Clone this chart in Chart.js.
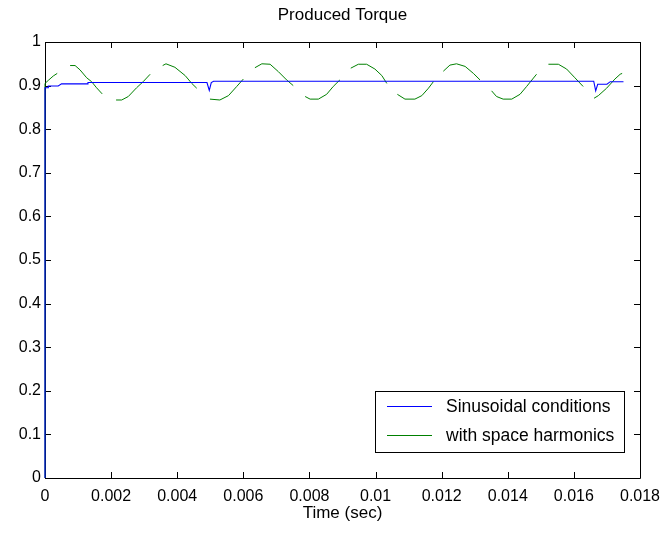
<!DOCTYPE html>
<html>
<head>
<meta charset="utf-8">
<title>Produced Torque</title>
<script src="https://cdn.jsdelivr.net/npm/chart.js@4/dist/chart.umd.min.js"></script>
<style>
  html, body { margin: 0; padding: 0; background: #fff; }
  #wrap { width: 663px; height: 533px; }
</style>
</head>
<body>
<div id="wrap"><canvas id="torque-chart" width="663" height="533"></canvas></div>
<script>
// torque, sinusoidal supply (s, p.u.)
const sinTime   = [0, 0, 0.0001, 0.0001, 0.0004, 0.0005, 0.0013, 0.0013, 0.0049, 0.00497, 0.00503, 0.0051, 0.0166, 0.01666, 0.01672, 0.0170, 0.0171, 0.0175];
const sinTorque = [0, 0.895, 0.895, 0.899, 0.899, 0.904, 0.904, 0.907, 0.907, 0.889, 0.907, 0.910, 0.910, 0.888, 0.903, 0.903, 0.909, 0.909];

// torque with space harmonics, null marks a break in the trace
const harmTime = [
  0, 0, 0.0001, 0.00025, 0.00037, 0.0005,
  0.00076, 0.00091, 0.00106, 0.00126, 0.00141, 0.00156, 0.00173, 0.0019,
  0.00215, 0.00232, 0.00252, 0.00277, 0.00297, 0.00318, 0.0034,
  0.00356, 0.00366, 0.00393, 0.00424, 0.00444, 0.00459, 0.0048,
  0.00499, 0.00529, 0.00555, 0.00580, 0.00600, 0.0062,
  0.00635, 0.00656, 0.00681, 0.00706, 0.00731, 0.00751, 0.0077,
  0.00787, 0.00802, 0.00827, 0.00852, 0.00872, 0.00892, 0.0091,
  0.00925, 0.00948, 0.00973, 0.00998, 0.01019, 0.01034, 0.0105,
  0.01066, 0.01089, 0.01119, 0.01140, 0.01160, 0.01175, 0.0119,
  0.01205, 0.01225, 0.01245, 0.01271, 0.01296, 0.01316, 0.0133,
  0.01351, 0.01366, 0.01386, 0.01412, 0.01437, 0.01457, 0.01487, 0.0150,
  0.01523, 0.01553, 0.01578, 0.01603, 0.01628, 0.0164,
  0.01661, 0.01674, 0.01699, 0.01724, 0.01740, 0.01746
];
const harmTorque = [
  0, 0.905, 0.912, 0.922, 0.928, null,
  0.946, 0.946, 0.936, 0.918, 0.909, 0.895, 0.881, null,
  0.867, 0.867, 0.875, 0.895, 0.909, 0.926, null,
  0.946, 0.950, 0.942, 0.923, 0.905, 0.894, null,
  0.869, 0.867, 0.877, 0.898, 0.915, null,
  0.941, 0.950, 0.949, 0.932, 0.913, 0.900, null,
  0.875, 0.869, 0.869, 0.880, 0.898, 0.913, null,
  0.940, 0.949, 0.949, 0.938, 0.923, 0.905, null,
  0.880, 0.869, 0.869, 0.877, 0.894, 0.909, null,
  0.933, 0.947, 0.950, 0.944, 0.928, 0.913, null,
  0.888, 0.875, 0.869, 0.869, 0.880, 0.898, 0.926, null,
  0.949, 0.949, 0.938, 0.918, 0.898, null,
  0.871, 0.877, 0.894, 0.915, 0.926, 0.928
];

const seriesLabels = ["Sinusoidal conditions", "with space harmonics"];
const xTicks = [0, 0.002, 0.004, 0.006, 0.008, 0.01, 0.012, 0.014, 0.016, 0.018];
const yTicks = [0, 0.1, 0.2, 0.3, 0.4, 0.5, 0.6, 0.7, 0.8, 0.9, 1];

const FONT = "'Liberation Sans', Arial, Helvetica, sans-serif";

const toPoints = (xs, ys) => xs.map((x, i) => ({ x: x, y: ys[i] }));

// box round the axes with inward ticks on all four sides
const axesBox = {
  id: "axesBox",
  beforeDatasetsDraw(chart) {
    const { ctx, chartArea: a, scales } = chart;
    const len = 6;
    ctx.save();
    ctx.strokeStyle = "#000";
    ctx.lineWidth = 1;
    ctx.beginPath();
    ctx.rect(Math.round(a.left) + 0.5, Math.round(a.top) + 0.5,
             Math.round(a.right - a.left), Math.round(a.bottom - a.top));
    xTicks.forEach((v) => {
      const px = Math.round(scales.x.getPixelForValue(v)) + 0.5;
      ctx.moveTo(px, a.bottom); ctx.lineTo(px, a.bottom - len);
      ctx.moveTo(px, a.top); ctx.lineTo(px, a.top + len);
    });
    yTicks.forEach((v) => {
      const py = Math.round(scales.y.getPixelForValue(v)) + 0.5;
      ctx.moveTo(a.left, py); ctx.lineTo(a.left + len, py);
      ctx.moveTo(a.right, py); ctx.lineTo(a.right - len, py);
    });
    ctx.stroke();
    ctx.restore();
  },
};

// boxed legend in the lower right corner
const boxLegend = {
  id: "boxLegend",
  afterDraw(chart) {
    const { ctx } = chart;
    const x0 = 375, y0 = 391, w = 249, h = 61;
    ctx.save();
    ctx.fillStyle = "#fff";
    ctx.fillRect(x0, y0, w, h);
    ctx.strokeStyle = "#000";
    ctx.lineWidth = 1;
    ctx.strokeRect(x0 + 0.5, y0 + 0.5, w, h);
    ctx.font = "17.5px " + FONT;
    ctx.textBaseline = "middle";
    chart.data.datasets.forEach((ds, i) => {
      const y = y0 + 15.5 + i * 29;
      ctx.strokeStyle = ds.borderColor;
      ctx.lineWidth = 1;
      ctx.beginPath();
      ctx.moveTo(x0 + 12, y);
      ctx.lineTo(x0 + 57, y);
      ctx.stroke();
      ctx.fillStyle = "#000";
      ctx.fillText(ds.label, x0 + 71, y + 1);
    });
    ctx.restore();
  },
};

new Chart(document.getElementById("torque-chart"), {
  type: "line",
  data: {
    datasets: [
      {
        label: seriesLabels[0],
        data: toPoints(sinTime, sinTorque),
        borderColor: "rgb(0,0,255)",
        borderWidth: 1.1,
        pointRadius: 0,
        tension: 0,
        clip: 4,
      },
      {
        label: seriesLabels[1],
        data: toPoints(harmTime, harmTorque),
        borderColor: "rgb(0,128,0)",
        borderWidth: 1,
        pointRadius: 0,
        tension: 0,
        spanGaps: false,
        clip: 4,
      },
    ],
  },
  options: {
    responsive: false,
    animation: false,
    events: [],
    layout: { padding: { left: 0, right: 23, top: 0, bottom: 0 } },
    plugins: {
      legend: { display: false },
      tooltip: { enabled: false },
      title: {
        display: true,
        fullSize: false,
        text: "Produced Torque",
        color: "#000",
        font: { family: FONT, size: 17, weight: "normal", lineHeight: 1.2 },
        padding: { top: 5, bottom: 16.6 },
      },
    },
    scales: {
      x: {
        type: "linear",
        min: 0,
        max: 0.018,
        afterBuildTicks: (s) => { s.ticks = xTicks.map((v) => ({ value: v })); },
        afterFit: (s) => { s.height = 55; s.paddingLeft = 0; s.paddingRight = 0; },
        border: { display: false },
        grid: { display: false, drawTicks: false },
        ticks: {
          color: "#000",
          padding: 9,
          maxRotation: 0,
          autoSkip: false,
          font: { family: FONT, size: 16 },
          callback: (v) => String(+Number(v).toFixed(3)),
        },
        title: {
          display: true,
          text: "Time (sec)",
          color: "#000",
          font: { family: FONT, size: 17 },
          padding: { top: 0, bottom: 9 },
        },
      },
      y: {
        min: 0,
        max: 1,
        afterBuildTicks: (s) => { s.ticks = yTicks.map((v) => ({ value: v })); },
        afterFit: (s) => { s.width = 45; s.paddingTop = 0; s.paddingBottom = 0; },
        border: { display: false },
        grid: { display: false, drawTicks: false },
        ticks: {
          color: "#000",
          padding: 4,
          autoSkip: false,
          font: { family: FONT, size: 16 },
          callback: (v) => String(+Number(v).toFixed(1)),
        },
      },
    },
  },
  plugins: [axesBox, boxLegend],
});
</script>
</body>
</html>
